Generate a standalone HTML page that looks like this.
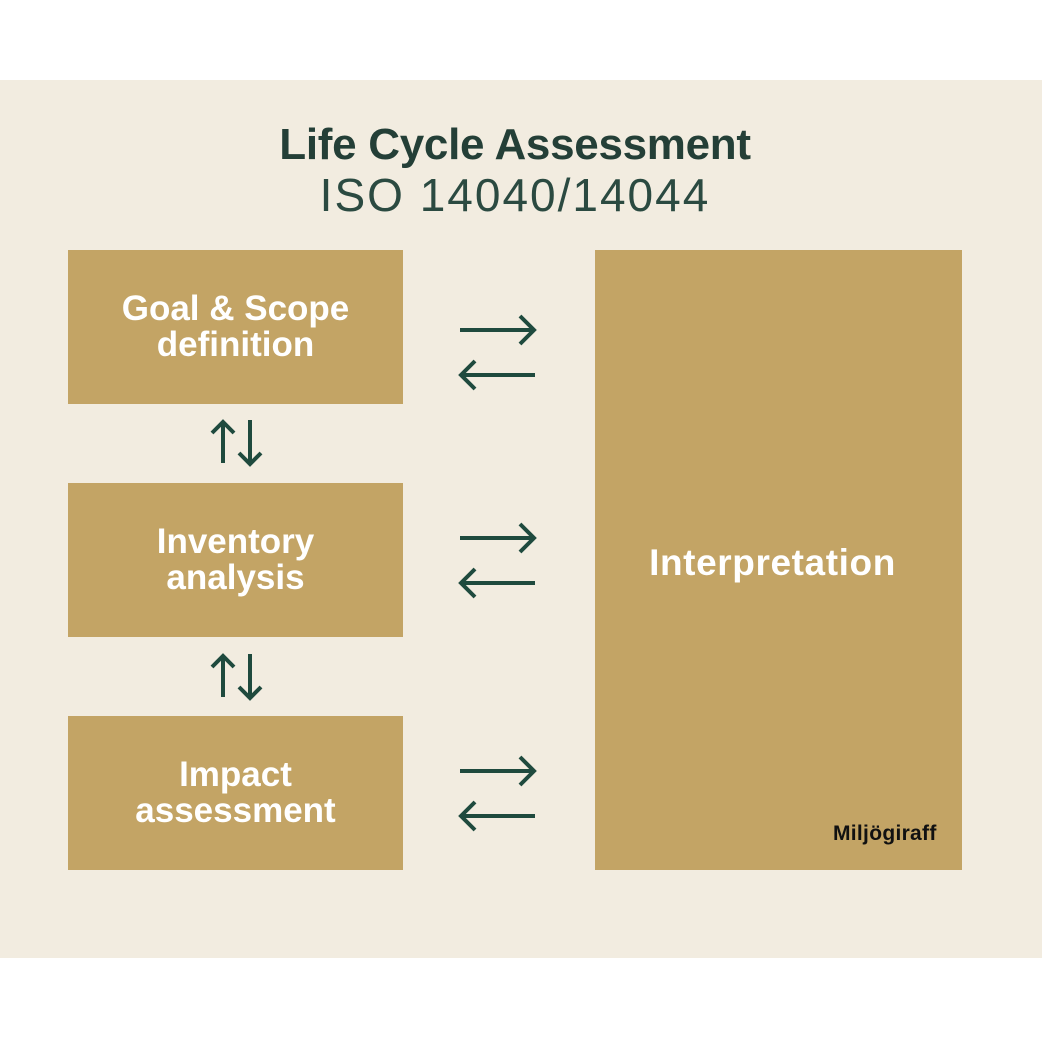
<!DOCTYPE html>
<html><head><meta charset="utf-8"><style>
body{margin:0;width:1042px;height:1042px;background:#fff;position:relative;font-family:"Liberation Sans",sans-serif;overflow:hidden}
.bg{position:absolute;left:0;top:80px;width:1042px;height:878px;background:#f2ece0}
.box{position:absolute;background:#c3a465;color:#fff;font-weight:bold;font-size:35px;line-height:36px;display:flex;align-items:center;justify-content:center;text-align:center}
.t{position:absolute;left:0;width:1030px;text-align:center;color:#243f37}
</style></head><body>
<div class="bg"></div>
<div class="t" style="top:120px;font-size:44px;font-weight:bold;letter-spacing:-0.3px">Life Cycle Assessment</div>
<div class="t" style="top:168px;font-size:46px;letter-spacing:2px;color:#2b4a41">ISO 14040/14044</div>
<div class="box" style="left:68px;top:250px;width:335px;height:154px">Goal &amp; Scope<br>definition</div>
<div class="box" style="left:68px;top:483px;width:335px;height:154px">Inventory<br>analysis</div>
<div class="box" style="left:68px;top:716px;width:335px;height:154px">Impact<br>assessment</div>
<div class="box" style="left:595px;top:250px;width:367px;height:620px"><span style="font-size:37px;letter-spacing:0.6px;margin-right:12px;margin-top:6px">Interpretation</span></div>
<div style="position:absolute;left:833px;top:822px;font-size:21px;font-weight:bold;color:#111;letter-spacing:0.3px">Miljögiraff</div>
<svg width="1042" height="1042" style="position:absolute;left:0;top:0" fill="none" stroke="#1f4a3e" stroke-width="4">
<g id="h"><path d="M460 330H534M520 316L534 330L520 344"/><path d="M535 375H461M475 361L461 375L475 389"/></g>
<use href="#h" y="208"/><use href="#h" y="441"/>
<g id="v"><path d="M223 463V422M212 433L223 422L234 433"/><path d="M250 420V464M239 453L250 464L261 453"/></g>
<use href="#v" y="234"/>
</svg>
</body></html>
